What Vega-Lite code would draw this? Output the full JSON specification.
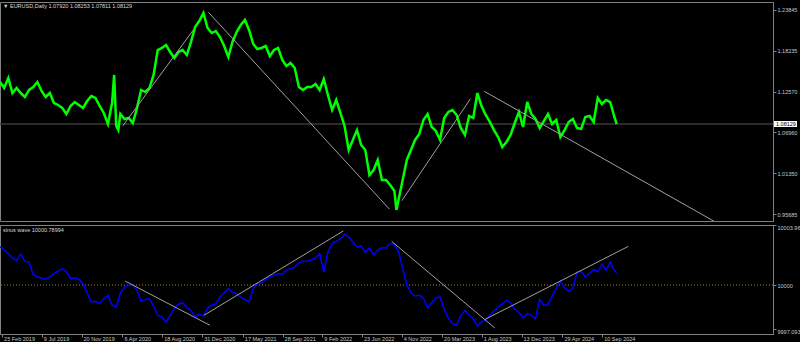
{
"$schema":"https://vega.github.io/schema/vega-lite/v6.json",
"background":"#000000",
"padding":{"left":-6,"top":1,"right":0,"bottom":0},
"spacing":2,
"config":{
 "font":"Liberation Sans",
 "view":{"stroke":"#808080","strokeWidth":1,"fill":"#000000"},
 "axis":{"grid":false,"labelFont":"Liberation Sans","labelFontSize":5.5,"labelColor":"#c8c8c8","tickColor":"#808080","domainColor":"#808080","labelOverlap":false,"labelBound":false,"labelFlush":false}
},
"datasets":{
 "price":[
  {"d":"2019-02-18","p":1.1392},{"d":"2019-03-04","p":1.1309},{"d":"2019-03-18","p":1.1447},{"d":"2019-04-01","p":1.1240},{"d":"2019-04-15","p":1.1309},{"d":"2019-04-29","p":1.1240},{"d":"2019-05-13","p":1.1185},{"d":"2019-05-27","p":1.1282},{"d":"2019-06-10","p":1.1323},{"d":"2019-06-24","p":1.1392},{"d":"2019-07-08","p":1.1268},{"d":"2019-07-22","p":1.1185},{"d":"2019-08-05","p":1.1240},{"d":"2019-08-19","p":1.1103},{"d":"2019-09-02","p":1.1075},{"d":"2019-09-16","p":1.1034},{"d":"2019-09-30","p":1.0951},{"d":"2019-10-14","p":1.1061},{"d":"2019-10-28","p":1.1116},{"d":"2019-11-11","p":1.1075},{"d":"2019-11-25","p":1.1034},{"d":"2019-12-09","p":1.1130},{"d":"2019-12-23","p":1.1199},
  {"d":"2020-01-06","p":1.1172},{"d":"2020-01-20","p":1.1061},{"d":"2020-02-03","p":1.0965},{"d":"2020-02-17","p":1.0813},{"d":"2020-03-02","p":1.1103},{"d":"2020-03-09","p":1.1489},{"d":"2020-03-16","p":1.0786},{"d":"2020-03-23","p":1.0730},{"d":"2020-03-30","p":1.0951},{"d":"2020-04-13","p":1.0882},{"d":"2020-04-27","p":1.0896},{"d":"2020-05-11","p":1.0827},{"d":"2020-05-25","p":1.1034},{"d":"2020-06-08","p":1.1282},{"d":"2020-06-22","p":1.1254},{"d":"2020-07-06","p":1.1309},{"d":"2020-07-20","p":1.1489},{"d":"2020-08-03","p":1.1833},{"d":"2020-08-17","p":1.1861},{"d":"2020-08-31","p":1.1902},{"d":"2020-09-14","p":1.1806},{"d":"2020-09-28","p":1.1723},{"d":"2020-10-12","p":1.1806},{"d":"2020-10-26","p":1.1833},{"d":"2020-11-09","p":1.1764},{"d":"2020-11-23","p":1.1943},{"d":"2020-12-07","p":1.2150},{"d":"2020-12-21","p":1.2233},
  {"d":"2021-01-04","p":1.2343},{"d":"2021-01-18","p":1.2136},{"d":"2021-02-01","p":1.2067},{"d":"2021-02-15","p":1.2095},{"d":"2021-03-01","p":1.2012},{"d":"2021-03-15","p":1.1888},{"d":"2021-03-29","p":1.1737},{"d":"2021-04-12","p":1.1943},{"d":"2021-04-26","p":1.2081},{"d":"2021-05-10","p":1.2178},{"d":"2021-05-24","p":1.2247},{"d":"2021-06-07","p":1.2109},{"d":"2021-06-21","p":1.1916},{"d":"2021-07-05","p":1.1847},{"d":"2021-07-19","p":1.1861},{"d":"2021-08-02","p":1.1888},{"d":"2021-08-16","p":1.1750},{"d":"2021-08-30","p":1.1833},{"d":"2021-09-13","p":1.1861},{"d":"2021-09-27","p":1.1695},{"d":"2021-10-11","p":1.1613},{"d":"2021-10-25","p":1.1654},{"d":"2021-11-08","p":1.1585},{"d":"2021-11-22","p":1.1323},{"d":"2021-12-06","p":1.1282},{"d":"2021-12-20","p":1.1323},
  {"d":"2022-01-03","p":1.1323},{"d":"2022-01-17","p":1.1364},{"d":"2022-01-31","p":1.1282},{"d":"2022-02-14","p":1.1433},{"d":"2022-02-28","p":1.1213},{"d":"2022-03-14","p":1.1006},{"d":"2022-03-28","p":1.1144},{"d":"2022-04-11","p":1.0965},{"d":"2022-04-25","p":1.0786},{"d":"2022-05-09","p":1.0455},{"d":"2022-05-23","p":1.0593},{"d":"2022-06-06","p":1.0730},{"d":"2022-06-20","p":1.0524},{"d":"2022-07-04","p":1.0455},{"d":"2022-07-18","p":1.0110},{"d":"2022-08-01","p":1.0179},{"d":"2022-08-15","p":1.0317},{"d":"2022-08-29","p":1.0041},{"d":"2022-09-12","p":1.0041},{"d":"2022-09-26","p":0.9972},{"d":"2022-10-10","p":0.9890},{"d":"2022-10-17","p":0.9628},{"d":"2022-10-24","p":0.9766},{"d":"2022-11-07","p":1.0041},{"d":"2022-11-21","p":1.0317},{"d":"2022-12-05","p":1.0455},{"d":"2022-12-19","p":1.0593},
  {"d":"2023-01-02","p":1.0675},{"d":"2023-01-16","p":1.0868},{"d":"2023-01-30","p":1.0951},{"d":"2023-02-13","p":1.0772},{"d":"2023-02-27","p":1.0717},{"d":"2023-03-13","p":1.0593},{"d":"2023-03-27","p":1.0896},{"d":"2023-04-10","p":1.0979},{"d":"2023-04-24","p":1.1006},{"d":"2023-05-08","p":1.0937},{"d":"2023-05-22","p":1.0758},{"d":"2023-06-05","p":1.0662},{"d":"2023-06-19","p":1.0923},{"d":"2023-07-03","p":1.0896},{"d":"2023-07-17","p":1.1240},{"d":"2023-07-31","p":1.1061},{"d":"2023-08-14","p":1.0937},{"d":"2023-08-28","p":1.0841},{"d":"2023-09-11","p":1.0730},{"d":"2023-09-25","p":1.0634},{"d":"2023-10-09","p":1.0496},{"d":"2023-10-23","p":1.0565},{"d":"2023-11-06","p":1.0662},{"d":"2023-11-20","p":1.0827},{"d":"2023-12-04","p":1.0979},{"d":"2023-12-18","p":1.0772},
  {"d":"2024-01-01","p":1.1116},{"d":"2024-01-15","p":1.0951},{"d":"2024-01-29","p":1.0882},{"d":"2024-02-12","p":1.0758},{"d":"2024-02-26","p":1.0854},{"d":"2024-03-11","p":1.0951},{"d":"2024-03-25","p":1.0813},{"d":"2024-04-08","p":1.0868},{"d":"2024-04-22","p":1.0634},{"d":"2024-05-06","p":1.0730},{"d":"2024-05-20","p":1.0841},{"d":"2024-06-03","p":1.0882},{"d":"2024-06-17","p":1.0758},{"d":"2024-07-01","p":1.0744},{"d":"2024-07-15","p":1.0910},{"d":"2024-07-29","p":1.0923},{"d":"2024-08-12","p":1.0841},{"d":"2024-08-26","p":1.1172},{"d":"2024-09-09","p":1.1089},{"d":"2024-09-23","p":1.1144},{"d":"2024-10-07","p":1.1116},{"d":"2024-10-21","p":1.0910},{"d":"2024-10-29","p":1.08129}
 ],
 "wave":[
  {"d":"2019-02-18","w":10002.51},{"d":"2019-03-04","w":10002.36},{"d":"2019-03-18","w":10002.07},{"d":"2019-04-01","w":10001.78},{"d":"2019-04-15","w":10001.63},{"d":"2019-04-29","w":10002.03},{"d":"2019-05-13","w":10001.56},{"d":"2019-05-27","w":10001.52},{"d":"2019-06-10","w":10000.68},{"d":"2019-06-24","w":10000.53},{"d":"2019-07-08","w":10000.46},{"d":"2019-07-22","w":10000.37},{"d":"2019-08-05","w":10000.53},{"d":"2019-08-19","w":10000.75},{"d":"2019-09-02","w":10000.93},{"d":"2019-09-16","w":10001.08},{"d":"2019-09-30","w":10000.86},{"d":"2019-10-14","w":10000.42},{"d":"2019-10-28","w":10000.48},{"d":"2019-11-11","w":10000.37},{"d":"2019-11-25","w":10000.09},{"d":"2019-12-09","w":9999.47},{"d":"2019-12-23","w":9998.88},
  {"d":"2020-01-06","w":9998.92},{"d":"2020-01-20","w":9998.77},{"d":"2020-02-03","w":9999.10},{"d":"2020-02-17","w":9999.32},{"d":"2020-03-02","w":9998.66},{"d":"2020-03-16","w":9998.55},{"d":"2020-03-30","w":9999.49},{"d":"2020-04-13","w":9999.85},{"d":"2020-04-27","w":9999.98},{"d":"2020-05-11","w":10000.02},{"d":"2020-05-25","w":9999.65},{"d":"2020-06-08","w":9998.92},{"d":"2020-06-22","w":9999.05},{"d":"2020-07-06","w":9999.10},{"d":"2020-07-20","w":9998.61},{"d":"2020-08-03","w":9998.00},{"d":"2020-08-17","w":9997.89},{"d":"2020-08-31","w":9997.56},{"d":"2020-09-14","w":9998.00},{"d":"2020-09-28","w":9998.48},{"d":"2020-10-12","w":9998.75},{"d":"2020-10-26","w":9998.83},{"d":"2020-11-09","w":9998.48},{"d":"2020-11-23","w":9998.33},{"d":"2020-12-07","w":9997.89},{"d":"2020-12-21","w":9998.06},
  {"d":"2021-01-04","w":9997.95},{"d":"2021-01-18","w":9998.48},{"d":"2021-02-01","w":9998.66},{"d":"2021-02-15","w":9998.75},{"d":"2021-03-01","w":9999.21},{"d":"2021-03-15","w":9999.49},{"d":"2021-03-29","w":9999.76},{"d":"2021-04-12","w":9999.52},{"d":"2021-04-26","w":9999.43},{"d":"2021-05-10","w":9999.19},{"d":"2021-05-24","w":9999.05},{"d":"2021-06-07","w":9998.88},{"d":"2021-06-21","w":9999.76},{"d":"2021-07-05","w":10000.09},{"d":"2021-07-19","w":10000.13},{"d":"2021-08-02","w":10000.35},{"d":"2021-08-16","w":10000.53},{"d":"2021-08-30","w":10000.64},{"d":"2021-09-13","w":10000.75},{"d":"2021-09-27","w":10000.73},{"d":"2021-10-11","w":10000.97},{"d":"2021-10-25","w":10001.08},{"d":"2021-11-08","w":10001.17},{"d":"2021-11-22","w":10001.45},{"d":"2021-12-06","w":10001.59},{"d":"2021-12-20","w":10001.56},
  {"d":"2022-01-03","w":10001.67},{"d":"2022-01-17","w":10001.78},{"d":"2022-01-31","w":10002.07},{"d":"2022-02-14","w":10000.86},{"d":"2022-02-28","w":10002.18},{"d":"2022-03-14","w":10002.73},{"d":"2022-03-28","w":10002.88},{"d":"2022-04-11","w":10003.06},{"d":"2022-04-25","w":10003.35},{"d":"2022-05-09","w":10003.17},{"d":"2022-05-23","w":10002.84},{"d":"2022-06-06","w":10002.51},{"d":"2022-06-20","w":10002.58},{"d":"2022-07-04","w":10002.14},{"d":"2022-07-18","w":10002.44},{"d":"2022-08-01","w":10002.00},{"d":"2022-08-15","w":10002.29},{"d":"2022-08-29","w":10002.47},{"d":"2022-09-12","w":10002.44},{"d":"2022-09-26","w":10002.75},{"d":"2022-10-10","w":10002.66},{"d":"2022-10-24","w":10002.22},{"d":"2022-11-07","w":10001.08},{"d":"2022-11-21","w":10000.02},{"d":"2022-12-05","w":9999.49},{"d":"2022-12-19","w":9999.27},
  {"d":"2023-01-02","w":9999.32},{"d":"2023-01-16","w":9999.14},{"d":"2023-01-30","w":9998.48},{"d":"2023-02-13","w":9998.83},{"d":"2023-02-27","w":9999.14},{"d":"2023-03-13","w":9999.21},{"d":"2023-03-27","w":9998.39},{"d":"2023-04-10","w":9997.82},{"d":"2023-04-24","w":9997.45},{"d":"2023-05-08","w":9997.34},{"d":"2023-05-22","w":9998.00},{"d":"2023-06-05","w":9998.31},{"d":"2023-06-19","w":9998.04},{"d":"2023-07-03","w":9997.78},{"d":"2023-07-17","w":9997.29},{"d":"2023-07-31","w":9997.56},{"d":"2023-08-14","w":9997.69},{"d":"2023-08-28","w":9998.04},{"d":"2023-09-11","w":9998.28},{"d":"2023-09-25","w":9998.53},{"d":"2023-10-09","w":9998.77},{"d":"2023-10-23","w":9998.97},{"d":"2023-11-06","w":9998.83},{"d":"2023-11-20","w":9998.39},{"d":"2023-12-04","w":9998.22},{"d":"2023-12-18","w":9997.82},
  {"d":"2024-01-01","w":9998.11},{"d":"2024-01-15","w":9998.00},{"d":"2024-01-29","w":9997.78},{"d":"2024-02-12","w":9999.05},{"d":"2024-02-26","w":9998.66},{"d":"2024-03-11","w":9998.70},{"d":"2024-03-25","w":9999.27},{"d":"2024-04-08","w":9999.80},{"d":"2024-04-22","w":10000.24},{"d":"2024-05-06","w":9999.80},{"d":"2024-05-20","w":9999.58},{"d":"2024-06-03","w":9999.76},{"d":"2024-06-17","w":10000.86},{"d":"2024-07-01","w":10000.90},{"d":"2024-07-15","w":10000.53},{"d":"2024-07-29","w":10000.75},{"d":"2024-08-12","w":10001.04},{"d":"2024-08-26","w":10000.86},{"d":"2024-09-09","w":10001.37},{"d":"2024-09-23","w":10000.97},{"d":"2024-10-07","w":10001.52},{"d":"2024-10-21","w":10000.97},{"d":"2024-10-29","w":10000.79}
 ],
 "ptrend":[
  {"d1":"2020-04-07","p1":1.0786,"d2":"2020-12-01","p2":1.2109},
  {"d1":"2021-01-21","p1":1.2353,"d2":"2022-09-23","p2":0.9641},
  {"d1":"2022-11-04","p1":0.9756,"d2":"2023-06-24","p2":1.1162},
  {"d1":"2023-08-09","p1":1.1264,"d2":"2025-09-25","p2":0.9466}
 ],
 "wtrend":[
  {"d1":"2020-04-15","w1":10000.26,"d2":"2021-01-26","w2":9997.34},
  {"d1":"2021-01-06","w1":9998.00,"d2":"2022-04-21","w2":10003.57},
  {"d1":"2022-10-01","w1":10002.88,"d2":"2023-09-14","w2":9997.16},
  {"d1":"2023-08-12","w1":9997.73,"d2":"2024-12-07","w2":10002.55}
 ]
},
"vconcat":[
 {"width":773,"height":219,
  "layer":[
   {"data":{"values":[{}]},"mark":{"type":"rule","color":"#3a3a3a","strokeWidth":1.5},
    "encoding":{"y":{"datum":1.08129,"type":"quantitative"}}},
   {"data":{"name":"price"},"mark":{"type":"line","color":"#00ff00","strokeWidth":2.5},
    "encoding":{
     "x":{"field":"d","type":"temporal","scale":{"domain":[{"year":2019,"month":2,"date":18},{"year":2026,"month":4,"date":9}]},"axis":null},
     "y":{"field":"p","type":"quantitative","scale":{"domain":[0.9476,1.24947],"nice":false,"zero":false},
      "axis":{"orient":"right","title":null,"values":[0.95685,0.9849,1.0135,1.04155,1.0696,1.09765,1.1257,1.15375,1.18235,1.2104,1.23845],"format":".5f","tickSize":3,"labelPadding":1}}}},
   {"data":{"name":"ptrend"},"mark":{"type":"rule","color":"#a0a0a0","strokeWidth":1,"clip":true},
    "encoding":{"x":{"field":"d1","type":"temporal","axis":null},"x2":{"field":"d2"},"y":{"field":"p1","type":"quantitative"},"y2":{"field":"p2"}}},
   {"data":{"values":[{}]},"mark":{"type":"text","align":"left","baseline":"middle","dx":3,"dy":4,"fontSize":5.5,"color":"#d8d8d8"},
    "encoding":{"x":{"datum":{"year":2019,"month":2,"date":18},"type":"temporal","axis":null},"y":{"datum":1.24947,"type":"quantitative"},"text":{"value":"▼  EURUSD,Daily  1.07920 1.08253 1.07811 1.08129"}}},
   {"data":{"values":[{}]},"mark":{"type":"rect","color":"#ffffff","xOffset":1,"x2Offset":24,"yOffset":-3,"y2Offset":3},
    "encoding":{"x":{"datum":{"year":2026,"month":4,"date":9},"type":"temporal","axis":null},"x2":{"datum":{"year":2026,"month":4,"date":9}},"y":{"datum":1.08129,"type":"quantitative"},"y2":{"datum":1.08129}}},
   {"data":{"values":[{}]},"mark":{"type":"text","align":"left","baseline":"middle","dx":3,"fontSize":5.5,"color":"#000000"},
    "encoding":{"x":{"datum":{"year":2026,"month":4,"date":9},"type":"temporal","axis":null},"y":{"datum":1.08129,"type":"quantitative"},"text":{"value":"1.08129"}}}
  ]},
 {"width":773,"height":109,
  "layer":[
   {"data":{"values":[{}]},"mark":{"type":"rule","color":"#a0841c","strokeDash":[1,2],"strokeWidth":1},
    "encoding":{"y":{"datum":10000,"type":"quantitative"}}},
   {"data":{"name":"wave"},"mark":{"type":"line","color":"#0000ff","strokeWidth":1.5},
    "encoding":{
     "x":{"field":"d","type":"temporal","scale":{"domain":[{"year":2019,"month":2,"date":18},{"year":2026,"month":4,"date":9}]},
      "axis":{"orient":"bottom","title":null,"values":[{"year":2019,"month":2,"date":25},{"year":2019,"month":7,"date":9},{"year":2019,"month":11,"date":20},{"year":2020,"month":4,"date":6},{"year":2020,"month":8,"date":18},{"year":2020,"month":12,"date":31},{"year":2021,"month":5,"date":17},{"year":2021,"month":9,"date":28},{"year":2022,"month":2,"date":9},{"year":2022,"month":6,"date":23},{"year":2022,"month":11,"date":4},{"year":2023,"month":3,"date":20},{"year":2023,"month":8,"date":1},{"year":2023,"month":12,"date":13},{"year":2024,"month":4,"date":29},{"year":2024,"month":9,"date":10}],
       "format":"%-d %b %Y","labelAlign":"left","labelOffset":1.5,"tickSize":3,"labelPadding":-1,"labelBaseline":"top"}},
     "y":{"field":"w","type":"quantitative","scale":{"domain":[9996.764,10003.963],"nice":false,"zero":false},
      "axis":{"orient":"right","title":null,"values":[9997.0938,10000,10003.963],"format":".9~g","tickSize":3,"labelPadding":1,
       "labelBaseline":{"condition":{"test":"datum.value > 10003 || datum.value < 9998","value":"top"},"value":"middle"}}}}},
   {"data":{"name":"wtrend"},"mark":{"type":"rule","color":"#a0a0a0","strokeWidth":1,"clip":true},
    "encoding":{"x":{"field":"d1","type":"temporal"},"x2":{"field":"d2"},"y":{"field":"w1","type":"quantitative"},"y2":{"field":"w2"}}},
   {"data":{"values":[{}]},"mark":{"type":"text","align":"left","baseline":"middle","dx":3,"dy":5,"fontSize":5.5,"color":"#d8d8d8"},
    "encoding":{"x":{"datum":{"year":2019,"month":2,"date":18},"type":"temporal"},"y":{"datum":10003.963,"type":"quantitative"},"text":{"value":"sinus wave 10000.78994"}}}
  ]}
]
}
